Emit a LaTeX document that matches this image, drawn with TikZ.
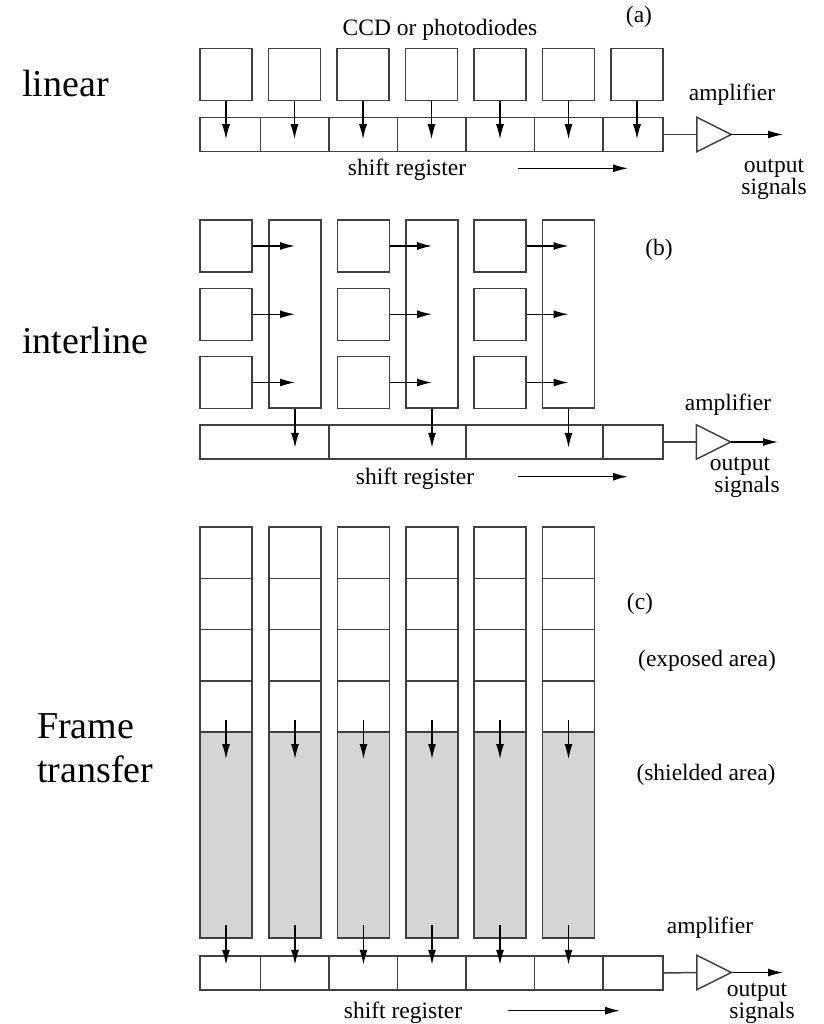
\documentclass[tikz,border=0pt]{standalone}
\usepackage{fontspec}
\setmainfont{Liberation Serif}
\usetikzlibrary{arrows.meta,calc}
\definecolor{edge}{HTML}{3F3F3F}
\definecolor{shade}{HTML}{D5D5D5}
\tikzset{
  line/.style={draw=edge, line width=1.5pt},
  cell/.style={line, rectangle, inner sep=0pt, minimum width=52pt, minimum height=52pt},
  regcell/.style={line, rectangle, inner sep=0pt, minimum height=34pt},
  ampbox/.style={rectangle, inner sep=0pt, minimum size=34pt},
  arr/.style={draw=black, line width=1.3pt, -{Latex[length=15pt,width=8pt]}},
  lbl/.style={inner sep=0pt, anchor=base, font=\fontsize{23.5}{19}\selectfont},
  side/.style={inner sep=0pt, anchor=base west, font=\fontsize{38}{52}\selectfont},
}
\begin{document}
\begin{tikzpicture}[x=1pt,y=-1pt]
\useasboundingbox (0,0) rectangle (823,1024);

% ---------- (a) linear array ----------
\node[side] (tlin) at (22,96.7) {linear};
\node[lbl] (tccd) at (440,35.5) {CCD or photodiodes};
\node[lbl] (tla) at (639,23) {(a)};
\foreach \i in {1,...,7}
  \node[cell] (pa\i) at ({226+68.5*(\i-1)},74.5) {};
\foreach \l/\r [count=\k] in {200/260.25, 260.25/328.75, 328.75/397.25, 397.25/465.75, 465.75/534.25, 534.25/602.75, 602.75/663}
  \node[regcell, minimum width={\r-\l}] (ra\k) at ({(\l+\r)/2},134.5) {};
\foreach \i in {1,...,7}
  \draw[arr, shorten >=13pt] (pa\i.south) -- (pa\i.south |- ra1.south);
\node[ampbox] (aa) at (714,134.5) {};
\draw[line] (aa.north west) -- (aa.east) -- (aa.south west) -- cycle;
\draw[line] (ra7.east) -- (aa.west);
\coordinate (oa) at (783,134.5);
\draw[arr] (aa.east) -- (oa);
\node[lbl] (ampa) at (732,100.7) {amplifier};
\node[lbl] (outa) at (774,172.3) {output};
\node[lbl] (siga) at (774,194.5) {signals};
\node[lbl] (sra) at (407,176) {shift register};
\coordinate (sa1) at (518,168.3);
\coordinate (sa2) at (628,168.3);
\draw[arr] (sa1) -- (sa2);

% ---------- (b) interline transfer ----------
\node[side] (tint) at (22,353) {interline};
\node[lbl] (tlb) at (659,255) {(b)};
\foreach \bx/\cx [count=\g] in {226/295, 363.5/432, 500/568.5} {
  \node[cell, minimum height=188pt] (cb\g) at (\cx,314) {};
  \foreach \r in {1,2,3} {
    \node[cell] (pb\g\r) at (\bx,{246+68.25*(\r-1)}) {};
  }
}
\foreach \l/\r [count=\k] in {200/329, 329/466, 466/603, 603/663}
  \node[regcell, minimum width={\r-\l}] (rb\k) at ({(\l+\r)/2},442) {};
\foreach \g in {1,2,3} {
  \foreach \r in {1,2,3}
    \draw[arr] (pb\g\r.east) -- (pb\g\r.east -| cb\g.center);
  \draw[arr, shorten >=12pt] (cb\g.south) -- (cb\g.south |- rb1.south);
}
\node[ampbox] (ab) at (713.5,442) {};
\draw[line] (ab.north west) -- (ab.east) -- (ab.south west) -- cycle;
\draw[line] (rb4.east) -- (ab.west);
\coordinate (ob) at (778,442);
\draw[arr] (ab.east) -- (ob);
\node[lbl] (ampb) at (728,410.7) {amplifier};
\node[lbl] (outb) at (740,470.5) {output};
\node[lbl] (sigb) at (747,492) {signals};
\node[lbl] (srb) at (415,484) {shift register};
\coordinate (sb1) at (518,476.7);
\coordinate (sb2) at (628,476.7);
\draw[arr] (sb1) -- (sb2);

% ---------- (c) frame transfer ----------
\node[side] (tfr1) at (37,738) {Frame};
\node[side] (tfr2) at (37,782) {transfer};
\node[lbl] (tlc) at (640,609) {(c)};
\node[lbl] (texp) at (707,666) {(exposed area)};
\node[lbl] (tshd) at (706,780) {(shielded area)};
\foreach \cx [count=\i] in {226, 295, 363.5, 432, 500, 568.5} {
  \foreach \k in {1,...,4}
    \node[cell, minimum height=51.25pt] (ec\i\k) at (\cx,{527+51.25*(\k-0.5)}) {};
  \node[cell, fill=shade, minimum height=206pt] (sc\i) at (\cx,835) {};
}
\foreach \l/\r [count=\k] in {200/260.25, 260.25/328.75, 328.75/397.25, 397.25/465.75, 465.75/534.25, 534.25/602.75, 602.75/663}
  \node[regcell, minimum width={\r-\l}] (rc\k) at ({(\l+\r)/2},973) {};
\foreach \i in {1,...,6} {
  \draw[arr, shorten <=13.6pt, shorten >=76pt] (ec\i4.center) -- (sc\i.center);
  \draw[arr, shorten <=90pt, shorten >=26pt] (sc\i.center) -- (sc\i.center |- rc1.south);
}
\node[ampbox] (ac) at (714,972.5) {};
\draw[line] (ac.north west) -- (ac.east) -- (ac.south west) -- cycle;
\draw[line] (rc7.east) -- (ac.west);
\coordinate (oc) at (783,972.5);
\draw[arr] (ac.east) -- (oc);
\node[lbl] (ampc) at (710,933) {amplifier};
\node[lbl] (outc) at (757,996.3) {output};
\node[lbl] (sigc) at (762,1018.5) {signals};
\node[lbl] (src) at (403,1018) {shift register};
\coordinate (sc1) at (508,1010.7);
\coordinate (sc2) at (620,1010.7);
\draw[arr] (sc1) -- (sc2);
\end{tikzpicture}
\end{document}
